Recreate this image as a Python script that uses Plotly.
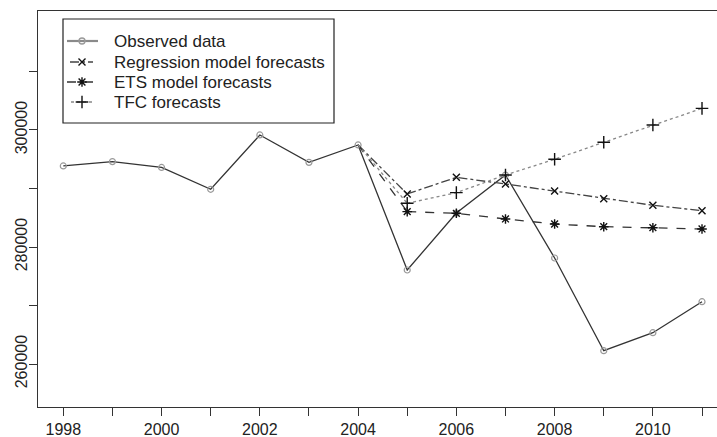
import plotly.graph_objects as go

years = list(range(1998, 2012))
observed = [293850, 294600, 293600, 289860, 299150, 294470, 297440,
            276070, 285800, 292300, 278120, 262270, 265350, 270650]

fc_years = list(range(2005, 2012))
regression = [289060, 291910, 290770, 289570, 288260, 287130, 286210]
ets = [286040, 285760, 284790, 283930, 283470, 283300, 283080]
tfc = [287470, 289290, 292310, 294990, 297900, 300850, 303700]

x_ticks = list(range(1998, 2012))
x_ticktext = [str(y) if y % 2 == 0 else "" for y in x_ticks]
y_ticks = [260000, 270000, 280000, 290000, 300000, 310000]
y_ticktext = ["260000", "", "280000", "", "300000", ""]

FONT = "Liberation Sans, Arial, Helvetica, sans-serif"
start_year = 2004
start_val = observed[years.index(start_year)]

styles = [
    # name, values, dash, line colour, symbol, size, marker colour, legend segment
    ("Observed data", None, "solid", "#333333", "circle-open", 6, "#9a9a9a", (67, 98)),
    ("Regression model forecasts", regression, "dashdot", "#444444", "x-thin-open", 7, "#111111", (70, 93)),
    ("ETS model forecasts", ets, "dash", "#333333", "asterisk-open", 8, "#111111", (67, 93)),
    ("TFC forecasts", tfc, "dot", "#888888", "cross-thin-open", 9, "#111111", (71, 93)),
]

fig = go.Figure()

name, _, dash, col, sym, ms, mcol, _seg = styles[0]
fig.add_trace(go.Scatter(
    x=years, y=observed, mode="lines+markers", name=name, showlegend=False,
    line=dict(color=col, width=1.3),
    marker=dict(symbol=sym, size=ms, color=mcol, line=dict(width=1.2, color=mcol)),
))

for name, vals, dash, col, sym, ms, mcol, _seg in styles[1:]:
    fig.add_trace(go.Scatter(
        x=[start_year, fc_years[0]], y=[start_val, vals[0]], mode="lines",
        line=dict(color=col, width=1.3, dash=dash), showlegend=False, hoverinfo="skip",
    ))
    fig.add_trace(go.Scatter(
        x=fc_years, y=vals, mode="lines+markers", name=name, showlegend=False,
        line=dict(color=col, width=1.3, dash=dash),
        marker=dict(symbol=sym, size=ms, color=mcol, line=dict(width=1.4, color=mcol)),
    ))

# Manual legend in pixel coordinates on an overlay axis
PL, PR, PT, PB = 38, 717, 11, 407
leg_box = (63, 19, 334, 123)
row_y = [41, 62, 82, 102]
sym_xc, text_x = 82, 112

fig.add_shape(type="rect", xref="x2", yref="y2",
              x0=leg_box[0], y0=leg_box[1], x1=leg_box[2], y1=leg_box[3],
              line=dict(color="#222222", width=1.2), fillcolor="white", layer="below")
for i, ((name, _, dash, col, sym, ms, mcol, seg), ry) in enumerate(zip(styles, row_y)):
    lcol = "#8a8a8a" if i == 0 else col
    lw = 2.2 if i == 0 else 1.3
    fig.add_trace(go.Scatter(
        x=list(seg), y=[ry, ry], xaxis="x2", yaxis="y2", mode="lines",
        line=dict(color=lcol, width=lw, dash=dash), showlegend=False, hoverinfo="skip",
    ))
    fig.add_trace(go.Scatter(
        x=[sym_xc], y=[ry], xaxis="x2", yaxis="y2", mode="markers",
        marker=dict(symbol=sym, size=ms, color=mcol, line=dict(width=1.4, color=mcol)),
        showlegend=False, hoverinfo="skip",
    ))
    fig.add_annotation(x=text_x, y=ry, xref="x2", yref="y2", text=name,
                       showarrow=False, xanchor="left", yanchor="middle",
                       font=dict(size=17, family=FONT, color="#222222"))

fig.update_layout(
    width=717, height=437,
    margin=dict(l=PL, r=0, t=PT, b=437 - PB),
    paper_bgcolor="white", plot_bgcolor="white",
    font=dict(family=FONT, color="#222222"),
    showlegend=False,
    xaxis=dict(
        range=[1997.485, 2011.305], tickmode="array", tickvals=x_ticks, ticktext=x_ticktext,
        ticks="outside", ticklen=8, tickcolor="#333333", tickwidth=1,
        showline=True, linecolor="#333333", linewidth=1.2, mirror=True,
        showgrid=False, zeroline=False,
        tickfont=dict(size=16, family=FONT, color="#222222"),
    ),
    yaxis=dict(
        range=[252650, 320340], tickmode="array", tickvals=y_ticks, ticktext=y_ticktext,
        ticks="outside", ticklen=8, tickcolor="#333333", tickwidth=1, tickangle=-90,
        ticklabelstandoff=-4,
        showline=True, linecolor="#333333", linewidth=1.2,
        showgrid=False, zeroline=False,
        tickfont=dict(size=16, family=FONT, color="#222222"),
    ),
    xaxis2=dict(range=[PL, PR], overlaying="x", visible=False, fixedrange=True),
    yaxis2=dict(range=[PB, PT], overlaying="y", visible=False, fixedrange=True),
)

fig.write_html("out.html")
